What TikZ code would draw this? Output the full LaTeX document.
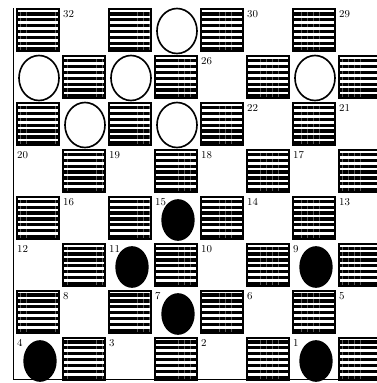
\documentclass[tikz,border=0pt]{standalone}
\usetikzlibrary{patterns.meta,shapes.geometric}

\begin{document}
\begin{tikzpicture}[x=0.03cm,y=-0.03cm,
  dark/.style={draw=black,line width=1.6pt,pattern={Lines[angle=0,distance=5pt,line width=2.8pt]}},
  num/.style={anchor=north west,inner sep=0pt,font=\small},
  wpiece/.style={ellipse,draw=black,line width=1.4pt,fill=white,minimum width=1.2cm,minimum height=1.35cm,inner sep=0pt},
  bpiece/.style={ellipse,fill=black,minimum width=1.0cm,minimum height=1.25cm,inner sep=0pt}]
  \useasboundingbox (0,0) rectangle (377,383);
  % board edge
  \draw[line width=0.8pt] (13,8) -- (13,379) -- (377,379);
  % dark squares
  \foreach \r in {0,...,7}{
    \foreach \c in {0,...,7}{
      \pgfmathtruncatemacro{\odd}{mod(\r+\c,2)}
      \ifnum\odd=0
        \draw[dark] (17+46*\c,9+47*\r) rectangle (59+46*\c,51+47*\r);
      \fi
    }
  }
  % square numbers
  \foreach \n in {32,30,29,26,22,21,20,19,18,17,16,15,14,13,12,11,10,9,8,7,6,5,4,3,2,1}{
    \pgfmathtruncatemacro{\r}{floor((32-\n)/4)}
    \pgfmathtruncatemacro{\c}{2*mod(32-\n,4)+1-mod(\r,2)}
    \node[num] (n\n) at (17+46*\c,10+47*\r) {\n};
  }
  % white men
  \foreach \n in {31,28,27,25,24,23}{
    \pgfmathtruncatemacro{\r}{floor((32-\n)/4)}
    \pgfmathtruncatemacro{\c}{2*mod(32-\n,4)+1-mod(\r,2)}
    \node[wpiece] (p\n) at (39+46*\c,31+47*\r) {};
  }
  % black men
  \foreach \n in {15,11,9,7,4,1}{
    \pgfmathtruncatemacro{\r}{floor((32-\n)/4)}
    \pgfmathtruncatemacro{\c}{2*mod(32-\n,4)+1-mod(\r,2)}
    \node[bpiece] (p\n) at (40+46*\c,32+47*\r) {};
  }
\end{tikzpicture}
\end{document}
